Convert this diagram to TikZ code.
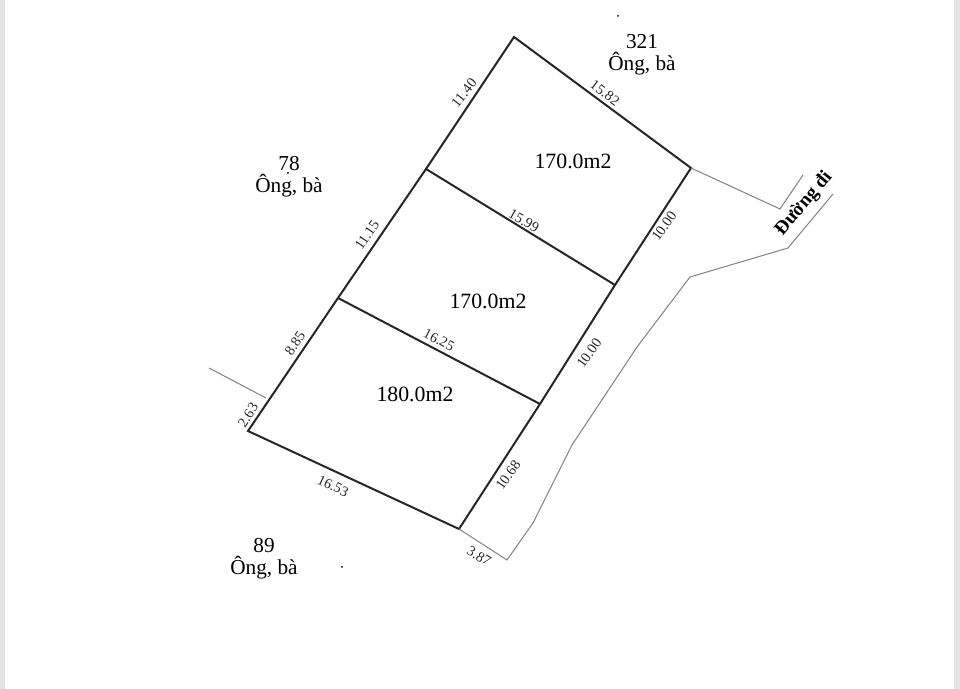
\documentclass[tikz,border=0pt]{standalone}
\usepackage{fontspec}
\setmainfont{Liberation Serif}
\tikzset{
	lot/.style={line width=0.2mm, black!85},
	thin line/.style={line width=0.1mm, black!50},
	area/.style={font=\fontsize{6.2pt}{7pt}\selectfont, inner sep=0pt},
	owner/.style={font=\fontsize{6.05pt}{6.2pt}\selectfont, align=center, inner sep=0pt},
	len/.style={font=\fontsize{4.1pt}{4.5pt}\selectfont, inner sep=0pt, black!85},
	speck/.style={circle, fill=black, inner sep=0pt, minimum size=0.02cm},
	strip/.style={black!11}
}
\begin{document}
\begin{tikzpicture}[x=0.01cm, y=-0.01cm]
		\useasboundingbox (0,0) rectangle (960,689);
		\fill[strip] (0,0) rectangle (5,689);
		\fill[strip] (954,0) rectangle (960,689);
		
		\coordinate (TL) at (514,37);
		\coordinate (TR) at (691,168);
		\coordinate (A1) at (426,169);
		\coordinate (A2) at (615,285);
		\coordinate (B1) at (338,298);
		\coordinate (B2) at (540,404);
		\coordinate (BL) at (248,431);
		\coordinate (BR) at (459,529);
		\coordinate (F0) at (266,398);
		\coordinate (F1) at (209,368);
		\coordinate (C0) at (780,209);
		\coordinate (C1) at (803,175);
		\coordinate (D0) at (507,560);
		\coordinate (R1) at (533,523);
		\coordinate (R2) at (572,445);
		\coordinate (R3) at (637,347);
		\coordinate (R4) at (690,277);
		\coordinate (R5) at (788,248);
		\coordinate (R6) at (833,194);
		
		\draw[lot] (TL) -- (TR) -- (A2) -- (B2) -- (BR) -- (BL) -- (B1) -- (A1) -- cycle;
		\draw[lot] (A1) -- (A2);
		\draw[lot] (B1) -- (B2);
		
		\draw[thin line] (F0) -- (F1);
		\draw[thin line] (TR) -- (C0) -- (C1);
		\draw[thin line] (BR) -- (D0) -- (R1) -- (R2) -- (R3) -- (R4) -- (R5) -- (R6);
		
		\node[area] (S1) at (573,161) {170.0m2};
		\node[area] (S2) at (488,301) {170.0m2};
		\node[area] (S3) at (415,394) {180.0m2};
		
		\node[owner] (O1) at (642,55) {321\\Ông, bà};
		\node[owner] (O2) at (289,177) {78\\Ông, bà};
		\node[owner] (O3) at (264,559) {89\\Ông, bà};
		
		\node[len, rotate=-37] (L1) at (605,93) {15.82};
		\node[len, rotate=52] (L2) at (464,93) {11.40};
		\node[len, rotate=-30] (L3) at (524,221) {15.99};
		\node[len, rotate=56] (L4) at (367,235) {11.15};
		\node[len, rotate=56] (L5) at (295,343) {8.85};
		\node[len, rotate=57] (L6) at (248,415) {2.63};
		\node[len, rotate=-27] (L7) at (439,340) {16.25};
		\node[len, rotate=-26] (L8) at (333,486) {16.53};
		\node[len, rotate=-32] (L9) at (479,556) {3.87};
		\node[len, rotate=55] (L10) at (664,226) {10.00};
		\node[len, rotate=55] (L11) at (589,353) {10.00};
		\node[len, rotate=55] (L12) at (508,475) {10.68};
		
		\node[owner, rotate=50, font=\fontsize{5.5pt}{6pt}\bfseries\selectfont] (Road) at (804,204) {Đường đi};
		
		\node[speck] (P1) at (618,16) {};
		\node[speck] (P2) at (342,567) {};
		\node[speck] (P3) at (288,173) {};
		\end{tikzpicture}
\end{document}
